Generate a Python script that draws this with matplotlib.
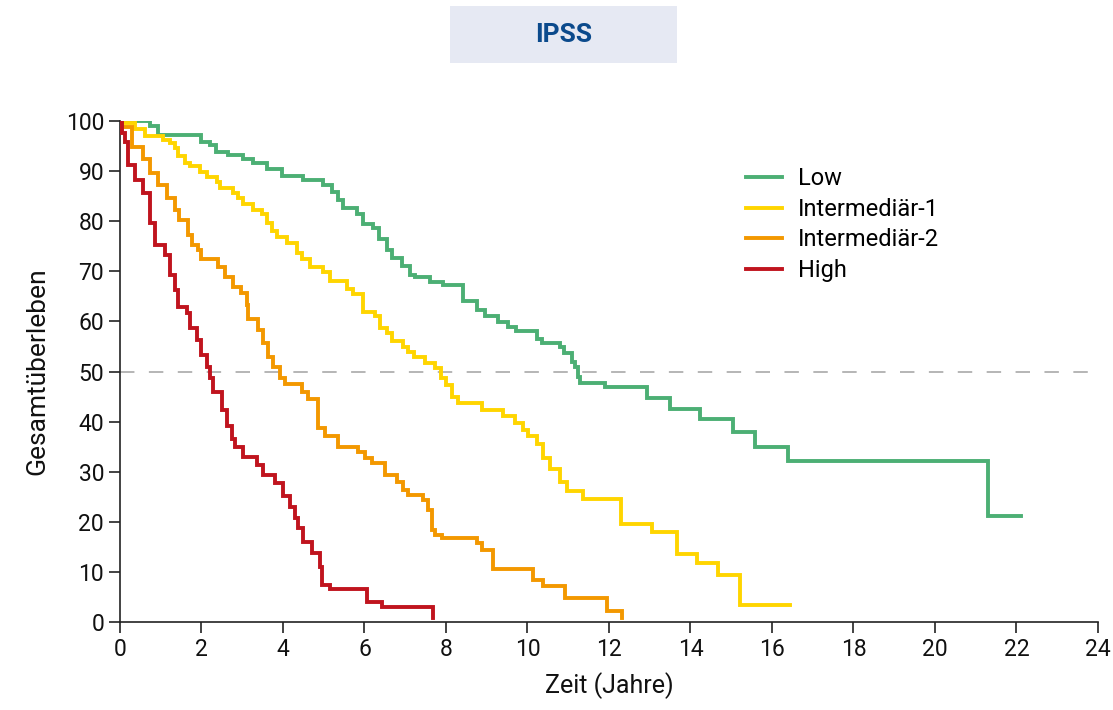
import matplotlib.pyplot as plt
from matplotlib.patches import Rectangle

plt.rcParams['font.family'] = ['Roboto', 'DejaVu Sans']

# step curves: time (years) and survival (%) after each step
low_t = [0, 0.74, 0.93, 2.0, 2.21, 2.36, 2.66, 3.03, 3.27, 3.6, 3.97, 4.5, 4.99, 5.2, 5.36,
         5.48, 5.81, 5.97, 6.2, 6.36, 6.55, 6.67, 6.92, 7.12, 7.24, 7.6, 7.93, 8.42, 8.76,
         8.96, 9.28, 9.52, 9.73, 10.23, 10.36, 10.8, 10.9, 11.09, 11.17, 11.24, 11.29, 11.9,
         12.93, 13.5, 14.23, 15.04, 15.58, 16.4, 21.3, 22.1]
low_s = [100, 98.9, 97.2, 95.9, 95.2, 93.9, 93.2, 92.4, 91.6, 90.4, 89.0, 88.2, 87.2, 85.8,
         84.2, 82.6, 81.5, 79.5, 78.7, 76.5, 74.2, 72.7, 71.1, 69.3, 68.9, 67.9, 67.3, 64.0,
         62.3, 61.1, 59.9, 58.9, 58.1, 56.5, 55.7, 54.9, 53.7, 51.9, 50.9, 48.9, 47.7, 46.9,
         44.7, 42.5, 40.5, 37.9, 34.9, 32.1, 21.2, 21.2]

int1_t = [0, 0.37, 0.61, 1.06, 1.23, 1.35, 1.43, 1.6, 1.72, 1.96, 2.13, 2.38, 2.45, 2.77, 2.9,
          3.02, 3.27, 3.48, 3.6, 3.73, 3.85, 4.1, 4.34, 4.46, 4.66, 4.98, 5.15, 5.56, 5.73,
          5.96, 6.26, 6.38, 6.55, 6.67, 6.94, 7.07, 7.21, 7.48, 7.73, 7.89, 8.0, 8.14, 8.3,
          8.88, 9.4, 9.69, 9.9, 10.02, 10.23, 10.38, 10.55, 10.8, 10.97, 11.37, 12.3, 13.05,
          13.67, 14.15, 14.68, 15.21, 16.44]
int1_s = [99.6, 98.4, 97.0, 96.2, 95.6, 94.6, 93.0, 91.6, 91.0, 89.8, 88.8, 87.8, 86.6, 85.6,
          84.6, 83.4, 82.2, 81.4, 79.6, 78.0, 76.8, 75.6, 73.6, 72.4, 70.9, 69.9, 68.1, 66.5,
          65.5, 61.9, 61.1, 58.7, 57.7, 56.1, 54.9, 53.9, 52.9, 51.7, 50.7, 48.7, 47.3, 44.9,
          43.7, 42.3, 41.1, 39.7, 38.3, 37.1, 35.5, 32.7, 30.5, 27.9, 26.1, 24.5, 19.6, 18.0,
          13.6, 11.8, 9.4, 3.4, 3.4]

int2_t = [0, 0.05, 0.3, 0.57, 0.74, 0.94, 1.15, 1.35, 1.45, 1.67, 1.76, 1.92, 2.0, 2.41, 2.58,
          2.77, 2.98, 3.11, 3.15, 3.39, 3.51, 3.64, 3.76, 3.93, 4.05, 4.47, 4.62, 4.86, 5.03,
          5.35, 5.84, 6.01, 6.18, 6.5, 6.8, 6.95, 7.07, 7.44, 7.55, 7.65, 7.73, 7.9, 8.76,
          8.88, 9.16, 10.14, 10.38, 10.92, 11.95, 12.32]
int2_s = [99.5, 98.8, 94.8, 92.4, 89.6, 87.2, 84.6, 82.2, 80.2, 77.2, 75.2, 74.2, 72.4, 70.9,
          68.9, 66.9, 65.7, 63.3, 60.5, 58.3, 55.7, 52.9, 50.9, 48.7, 47.5, 45.9, 44.5, 38.7,
          37.1, 34.9, 33.9, 32.7, 31.7, 29.3, 27.9, 26.3, 25.3, 24.3, 22.4, 18.4, 17.4, 16.8,
          15.8, 14.4, 10.5, 8.4, 7.2, 4.8, 2.2, 0.8]

high_t = [0, 0.05, 0.12, 0.2, 0.37, 0.57, 0.74, 0.86, 1.1, 1.23, 1.35, 1.43, 1.64, 1.72, 1.88,
          2.0, 2.13, 2.21, 2.29, 2.5, 2.62, 2.74, 2.82, 3.03, 3.36, 3.51, 3.8, 4.0, 4.17, 4.29,
          4.37, 4.5, 4.7, 4.91, 4.95, 5.15, 6.06, 6.43, 7.68]
high_s = [99.5, 97.6, 95.8, 91.2, 88.2, 85.6, 79.6, 75.2, 73.3, 69.3, 66.3, 62.9, 61.7, 58.7,
          56.3, 53.3, 50.9, 48.7, 45.9, 42.3, 39.1, 36.5, 34.9, 32.9, 31.3, 29.3, 27.7, 25.1,
          23.0, 20.7, 18.8, 16.0, 13.8, 11.0, 7.4, 6.6, 4.0, 3.0, 0.8]

labels = ['Low', 'Intermediär-1', 'Intermediär-2', 'High']
colors = ['#4caf74', '#ffd500', '#f39800', '#c0141e']
x_ticks = list(range(0, 25, 2))
y_ticks = list(range(0, 101, 10))

fig = plt.figure(figsize=(11.13, 7.1), dpi=100)
ax = fig.add_axes([0.1078, 0.1239, 0.8787, 0.7057])

# 50% reference line
ax.plot([0, 24], [50, 50], color='#b0b0b0', lw=1.3, dashes=(8, 8), zorder=1)

curves = [(low_t, low_s), (int1_t, int1_s), (int2_t, int2_s), (high_t, high_s)]
for (t, s), lab, c in zip(curves, labels, colors):
    ax.step([0] + t, [100] + s, where='post', color=c, lw=2.8, label=lab,
            solid_joinstyle='miter', zorder=3)

ax.set_xlim(0, 24)
ax.set_ylim(0, 100)
ax.set_xticks(x_ticks)
ax.set_yticks(y_ticks)
ax.tick_params(labelsize=16.5, length=8, width=1.2, color='#222222', labelcolor='#111111')
for side in ['top', 'right']:
    ax.spines[side].set_visible(False)
for side in ['left', 'bottom']:
    ax.spines[side].set_linewidth(1.2)
    ax.spines[side].set_color('#222222')

ax.set_xlabel('Zeit (Jahre)', fontsize=18, color='#111111', labelpad=8)
ax.set_ylabel('Gesamtüberleben', fontsize=19, color='#111111', labelpad=12)

leg = ax.legend(loc='upper left', bbox_to_anchor=(0.618, 0.95), frameon=False, fontsize=17,
                handlelength=1.55, handletextpad=0.65, labelspacing=0.32)

# title box
fig.patches.append(Rectangle((0.4043, 0.9113), 0.204, 0.0803, transform=fig.transFigure,
                             facecolor='#e6e9f3', edgecolor='none'))
fig.text(0.5063, 0.9507, 'IPSS', ha='center', va='center', fontsize=19,
         fontweight='bold', color='#0b4a8c')

fig.savefig('out.png', dpi=100)
